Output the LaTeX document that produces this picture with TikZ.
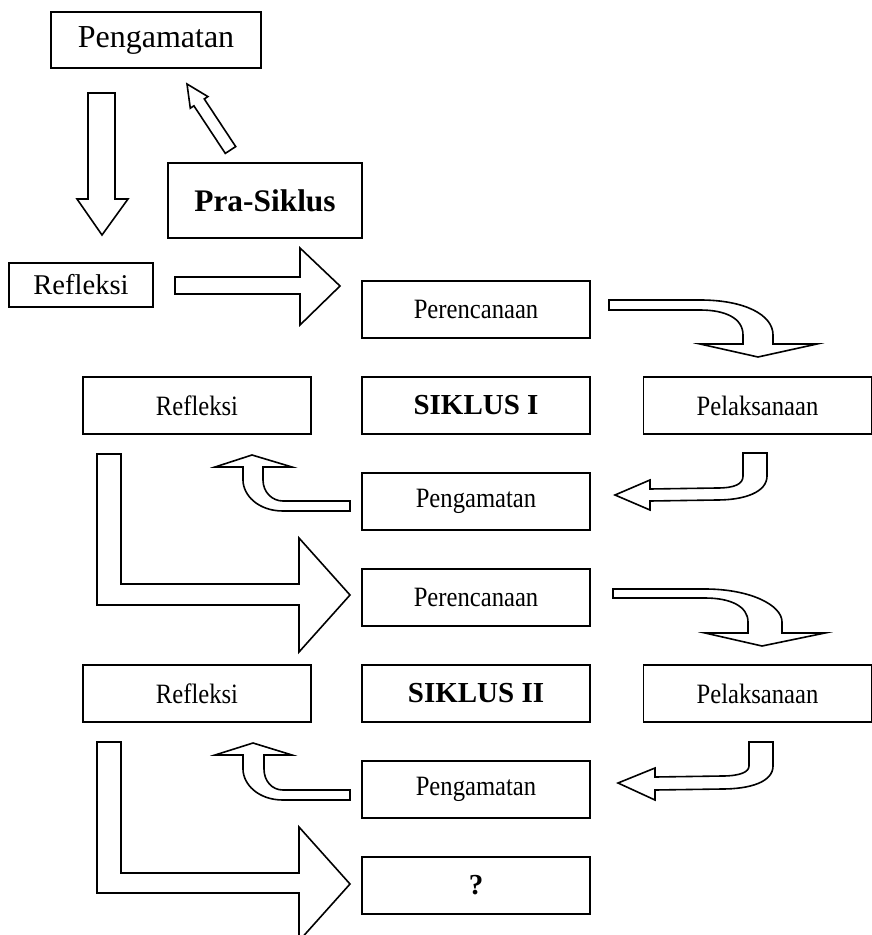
\documentclass[tikz,border=0pt]{standalone}
\usepackage{fontspec}
\setmainfont{Liberation Serif}
\newfontfamily\sempit[FakeStretch=0.88]{Liberation Serif}
\usetikzlibrary{calc}

\tikzset{
  kotak/.style={draw, line width=0.7pt, minimum width=114pt, minimum height=28.5pt,
    inner sep=0pt, font=\sempit\fontsize{14}{16}\selectfont},
  judul/.style={kotak, font=\fontsize{14.5}{17}\selectfont\bfseries},
  awal/.style={draw, line width=0.9pt, inner sep=0pt},
  panah/.style={draw, line width=0.8pt, fill=white, line join=miter},
}

\begin{document}
\begin{tikzpicture}[x=0.5pt, y=-0.5pt]
  \useasboundingbox (0,0) rectangle (871,935);

  % pra-siklus
  \node[awal, minimum width=105pt, minimum height=28pt, font=\fontsize{16}{19}\selectfont] (pg0) at (156,40) {Pengamatan\hspace{7pt}};
  \node[awal, minimum width=97pt, minimum height=37.5pt, font=\fontsize{15.7}{19}\selectfont\bfseries] (ps) at (265,200.5) {Pra-Siklus};
  \node[awal, minimum width=72pt, minimum height=22pt, font=\fontsize{14.3}{17}\selectfont] (rf0) at (81,285) {Refleksi};

  % siklus I
  \node[kotak] (pr1) at (476,309.5) {Perencanaan};
  \node[judul] (sk1) at ($(pr1) + (0,96)$) {SIKLUS I};
  \node[kotak] (rf1) at ($(sk1) + (-279,0)$) {Refleksi};
  \node[kotak] (pl1) at ($(sk1) + (281.5,0)$) {Pelaksanaan};
  \node[kotak] (pg1) at ($(sk1) + (0,96)$) {Pengamatan};

  % siklus II
  \node[kotak] (pr2) at ($(pg1) + (0,96)$) {Perencanaan};
  \node[judul] (sk2) at ($(pr2) + (0,96)$) {SIKLUS II};
  \node[kotak] (rf2) at ($(sk2) + (-279,0)$) {Refleksi};
  \node[kotak] (pl2) at ($(sk2) + (281.5,0)$) {Pelaksanaan};
  \node[kotak] (pg2) at ($(sk2) + (0,96)$) {Pengamatan};
  \node[judul] (q) at ($(pg2) + (0,96)$) {?};

  % panah blok
  \draw[panah] (88,93) -- (115,93) -- (115,199) -- (128,199) -- (102,235) -- (77,199) -- (88,199) -- cycle;
  \draw[panah] (235.7,146.6) -- (204.3,99.0) -- (207.9,96.6) -- (187,84) -- (190.3,108.2) -- (193.9,105.8) -- (225.3,153.4) -- cycle;
  \draw[panah] (175,277) -- (300,277) -- (300,248) -- (340,286) -- (300,325) -- (300,294) -- (175,294) -- cycle;

  \draw[panah] (609,300) -- (700,300) .. controls (745,300) and (773,315) .. (773,335) -- (773,344) -- (817,344)
    -- (758,357) -- (700,344) -- (743,344) -- (743,335) .. controls (743,318) and (725,310) .. (700,310) -- (609,310) -- cycle;
  \draw[panah] (743,453) -- (767,453) -- (767,476) .. controls (767,492) and (745,500) .. (717,500) -- (650,501) -- (650,510)
    -- (615,495) -- (650,480) -- (650,489) -- (717,488) .. controls (735,488) and (743,484) .. (743,476) -- cycle;
  \draw[panah] (350,501) -- (350,511) -- (283,511) .. controls (258,511) and (243,495) .. (243,480) -- (243,467) -- (215,467)
    -- (252,455) -- (292,467) -- (263,467) -- (263,480) .. controls (263,492) and (272,501) .. (283,501) -- cycle;
  \draw[panah] (97,454) -- (121,454) -- (121,584) -- (299,584) -- (299,538) -- (350,595) -- (299,652) -- (299,605) -- (97,605) -- cycle;

  \draw[panah] (613,589) -- (705,589) .. controls (750,589) and (782,605) .. (782,622) -- (782,633) -- (825,633)
    -- (762,646) -- (705,633) -- (748,633) -- (748,622) .. controls (748,606) and (730,598) .. (705,598) -- (613,598) -- cycle;
  \draw[panah] (749,742) -- (773,742) -- (773,766) .. controls (773,782) and (750,789) .. (722,789) -- (655,790) -- (655,800)
    -- (618,783) -- (655,768) -- (655,777) -- (722,776) .. controls (740,776) and (749,772) .. (749,766) -- cycle;
  \draw[panah] (350,790) -- (350,800) -- (283,800) .. controls (258,800) and (243,784) .. (243,769) -- (243,755) -- (215,755)
    -- (253,743) -- (292,755) -- (264,755) -- (264,769) .. controls (264,781) and (272,790) .. (283,790) -- cycle;
  \draw[panah] (97,742) -- (121,742) -- (121,873) -- (299,873) -- (299,827) -- (350,884) -- (299,941) -- (299,893) -- (97,893) -- cycle;
\end{tikzpicture}
\end{document}
